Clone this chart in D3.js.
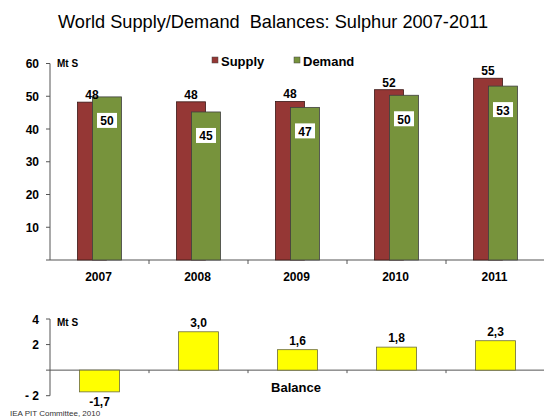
<!DOCTYPE html>
<html>
<head>
<meta charset="utf-8">
<script src="https://cdn.jsdelivr.net/npm/d3@7"></script>
<style>
  body { margin: 0; background: #fff; }
  svg { font-family: Arial, "Liberation Sans", sans-serif; }
</style>
</head>
<body>
<div id="chart"></div>
<script>
// chart data
const years = ["2007", "2008", "2009", "2010", "2011"];
const supply = [48.2, 48.3, 48.4, 52, 55.5];
const demand = [49.8, 45.2, 46.6, 50.3, 53.1];
const supplyLabels = ["48", "48", "48", "52", "55"];
const demandLabels = ["50", "45", "47", "50", "53"];
const balance = [-1.7, 3.0, 1.6, 1.8, 2.3];
const balanceLabels = ["-1,7", "3,0", "1,6", "1,8", "2,3"];
const topTicks = [10, 20, 30, 40, 50, 60];
const bottomTicks = [-2, 2, 4];

const W = 544, H = 419;
const svg = d3.select("#chart").append("svg").attr("width", W).attr("height", H);

svg.append("text")
    .attr("x", 273).attr("y", 28)
    .attr("text-anchor", "middle")
    .attr("font-size", 18.2)
    .style("white-space", "pre")
    .text("World Supply/Demand  Balances: Sulphur 2007-2011");

let x = d3.scaleBand().domain(years).range([50, 545]);

// ----- top chart -----
let y = d3.scaleLinear().domain([0, 60]).range([260, 63.5]);

svg.append("line").attr("x1", 50).attr("x2", 50).attr("y1", y(60)).attr("y2", y(0)).attr("stroke", "#555");
svg.append("line").attr("x1", 50).attr("x2", 545).attr("y1", y(0)).attr("y2", y(0)).attr("stroke", "#555");

let yt = svg.append("g");
yt.selectAll("line").data(topTicks).enter().append("line")
    .attr("x1", 46).attr("x2", 50).attr("y1", d => y(d)).attr("y2", d => y(d)).attr("stroke", "#555");
yt.selectAll("text").data(topTicks).enter().append("text")
    .attr("x", 39).attr("y", d => y(d) + 4.5)
    .attr("text-anchor", "end").attr("font-size", 12).attr("font-weight", "bold")
    .text(d => d);
svg.append("line").attr("x1", 46).attr("x2", 50).attr("y1", y(0)).attr("y2", y(0)).attr("stroke", "#555");

let xt = svg.append("g");
xt.selectAll("line").data(years).enter().append("line")
    .attr("x1", d => x(d) + x.bandwidth()).attr("x2", d => x(d) + x.bandwidth())
    .attr("y1", y(0)).attr("y2", y(0) + 4).attr("stroke", "#555");
xt.selectAll("text").data(years).enter().append("text")
    .attr("x", d => x(d) + x.bandwidth() / 2 - 1).attr("y", 281)
    .attr("text-anchor", "middle").attr("font-size", 12).attr("font-weight", "bold")
    .text(d => d);

svg.append("text").attr("x", 57).attr("y", 67).attr("font-size", 10).attr("font-weight", "bold").text("Mt S");

let bw = 29;
let sx = d => x(d) + x.bandwidth() / 2 - 22;
let dx = d => x(d) + x.bandwidth() / 2 - 7;

svg.selectAll(".sup").data(years).enter().append("rect")
    .attr("x", d => sx(d)).attr("width", bw)
    .attr("y", (d, i) => y(supply[i])).attr("height", (d, i) => y(0) - y(supply[i]))
    .attr("fill", "#953735").attr("stroke", "#3b1716").attr("stroke-width", 0.8);

svg.selectAll(".dem").data(years).enter().append("rect")
    .attr("x", d => dx(d)).attr("width", bw)
    .attr("y", (d, i) => y(demand[i])).attr("height", (d, i) => y(0) - y(demand[i]))
    .attr("fill", "#77933c").attr("stroke", "#3f3f3f").attr("stroke-width", 0.8);

svg.selectAll(".suplab").data(years).enter().append("text")
    .attr("x", d => sx(d) + bw / 2).attr("y", (d, i) => y(supply[i]) - 3)
    .attr("text-anchor", "middle").attr("font-size", 12).attr("font-weight", "bold")
    .text((d, i) => supplyLabels[i]);

let dl = svg.selectAll(".demlab").data(years).enter().append("g")
    .attr("transform", (d, i) => `translate(${dx(d) + bw / 2},${y(demand[i]) + 24})`);
dl.append("rect").attr("x", -10).attr("y", -8).attr("width", 20).attr("height", 15).attr("fill", "#fff");
dl.append("text").attr("y", 4.5).attr("text-anchor", "middle")
    .attr("font-size", 12).attr("font-weight", "bold")
    .text((d, i) => demandLabels[i]);

// legend
let legend = [["Supply", "#953735", 212], ["Demand", "#77933c", 294]];
let lg = svg.selectAll(".lg").data(legend).enter().append("g");
lg.append("rect").attr("x", d => d[2]).attr("y", 57).attr("width", 6).attr("height", 6)
    .attr("fill", d => d[1]).attr("stroke", "#444").attr("stroke-width", 0.5);
lg.append("text").attr("x", d => d[2] + 9).attr("y", 65.5)
    .attr("font-size", 13).attr("font-weight", "bold").text(d => d[0]);

// ----- bottom chart -----
let yb = d3.scaleLinear().domain([-2, 4]).range([395.7, 319]);

svg.append("line").attr("x1", 50).attr("x2", 50).attr("y1", yb(4)).attr("y2", yb(-2)).attr("stroke", "#555");
svg.append("line").attr("x1", 50).attr("x2", 545).attr("y1", yb(0)).attr("y2", yb(0)).attr("stroke", "#555");

let bt = svg.append("g");
bt.selectAll("line").data(bottomTicks.concat([0])).enter().append("line")
    .attr("x1", 46).attr("x2", 50).attr("y1", d => yb(d)).attr("y2", d => yb(d)).attr("stroke", "#555");
bt.selectAll("text").data(bottomTicks).enter().append("text")
    .attr("x", 39).attr("y", d => yb(d) + 4.5)
    .attr("text-anchor", "end").attr("font-size", 12).attr("font-weight", "bold")
    .style("white-space", "pre")
    .text(d => d < 0 ? "- " + Math.abs(d) : d);

svg.selectAll(".btick").data(years).enter().append("line")
    .attr("x1", d => x(d) + x.bandwidth()).attr("x2", d => x(d) + x.bandwidth())
    .attr("y1", yb(0)).attr("y2", yb(0) + 3).attr("stroke", "#555");

svg.append("text").attr("x", 57).attr("y", 326).attr("font-size", 10).attr("font-weight", "bold").text("Mt S");

let balW = 40;
svg.selectAll(".bal").data(years).enter().append("rect")
    .attr("x", d => x(d) + x.bandwidth() / 2 - balW / 2).attr("width", balW)
    .attr("y", (d, i) => yb(Math.max(0, balance[i])))
    .attr("height", (d, i) => Math.abs(yb(balance[i]) - yb(0)))
    .attr("fill", "#ffff00").attr("stroke", "#6b6b3a").attr("stroke-width", 0.8);

svg.selectAll(".ballab").data(years).enter().append("text")
    .attr("x", d => x(d) + x.bandwidth() / 2)
    .attr("y", (d, i) => balance[i] < 0 ? yb(balance[i]) + 14 : yb(balance[i]) - 5)
    .attr("text-anchor", "middle").attr("font-size", 12).attr("font-weight", "bold")
    .text((d, i) => balanceLabels[i]);

svg.append("text").attr("x", 296).attr("y", 392)
    .attr("text-anchor", "middle").attr("font-size", 13).attr("font-weight", "bold").text("Balance");

svg.append("text").attr("x", 10).attr("y", 416).attr("font-size", 8).attr("fill", "#333")
    .text("IEA PIT Committee, 2010");
</script>
</body>
</html>
